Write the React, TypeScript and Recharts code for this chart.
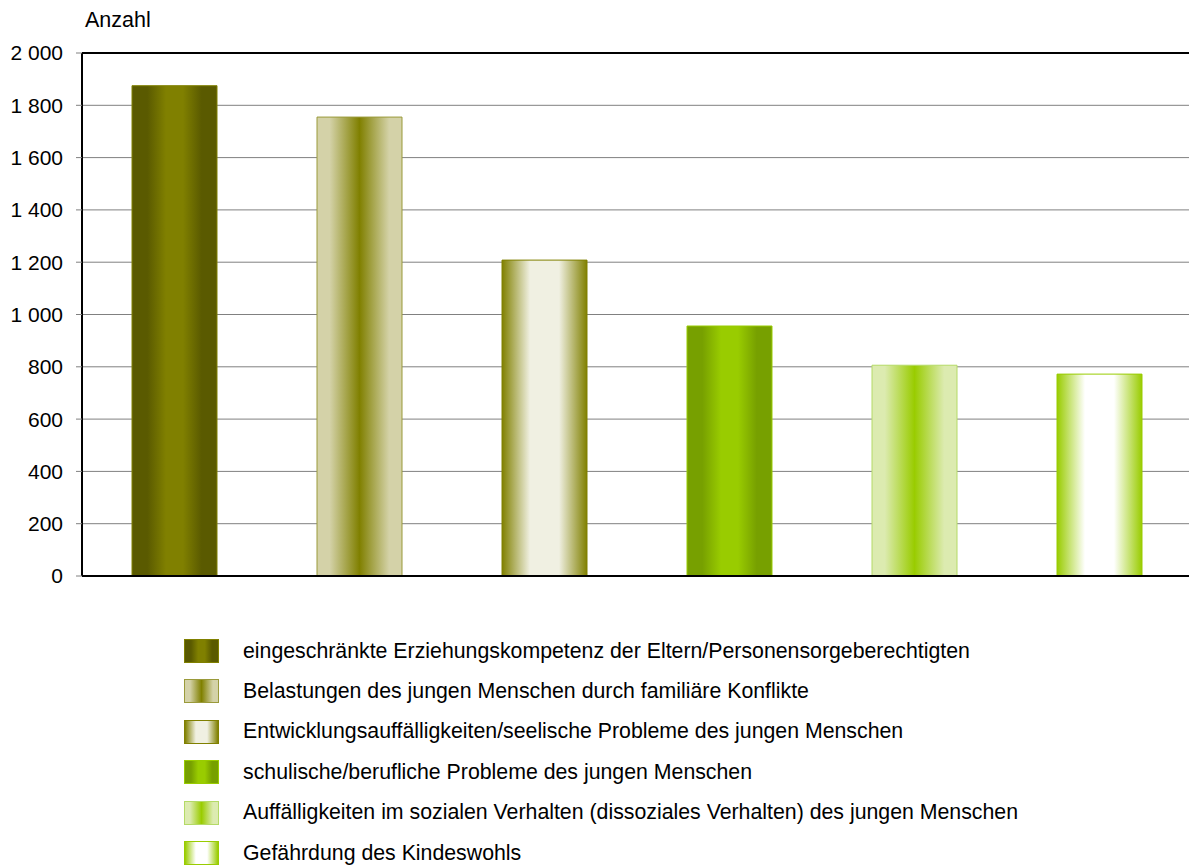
import React from "react"
import { BarChart, Bar, Cell, XAxis, YAxis, CartesianGrid, ReferenceLine } from "recharts"

const categories = [
  "eingeschränkte Erziehungskompetenz der Eltern/Personensorgeberechtigten",
  "Belastungen des jungen Menschen durch familiäre Konflikte",
  "Entwicklungsauffälligkeiten/seelische Probleme des jungen Menschen",
  "schulische/berufliche Probleme des jungen Menschen",
  "Auffälligkeiten im sozialen Verhalten (dissoziales Verhalten) des jungen Menschen",
  "Gefährdung des Kindeswohls",
]
const values = [1875, 1755, 1208, 956, 806, 772]
const yTicks = [0, 200, 400, 600, 800, 1000, 1200, 1400, 1600, 1800, 2000]

// gradient shapes: [offset %, use centre colour?]
const plateau: [number, boolean][] = [[0, false], [18, false], [40, true], [60, true], [82, false], [100, false]]
const narrow: [number, boolean][] = [[0, false], [15, false], [50, true], [85, false], [100, false]]
const wide: [number, boolean][] = [[0, false], [33, true], [67, true], [100, false]]

const fills = [
  { edge: "#5a5a00", mid: "#808000", border: "#808000", stops: plateau },
  { edge: "#d4d2a8", mid: "#808000", border: "#9a9a3a", stops: narrow },
  { edge: "#808000", mid: "#f0f0e2", border: "#808000", stops: wide },
  { edge: "#77a000", mid: "#99cc00", border: "#99cc00", stops: plateau },
  { edge: "#dcebb0", mid: "#99cc00", border: "#b4da66", stops: narrow },
  { edge: "#99cc00", mid: "#ffffff", border: "#99cc00", stops: wide },
]

const data = categories.map((name, i) => ({ name, value: values[i] }))

const fmt = (v: number) => (v >= 1000 ? `${Math.floor(v / 1000)} ${String(v % 1000).padStart(3, "0")}` : String(v))

const font = "'Liberation Sans', Arial, sans-serif"

export default function App() {
  return (
    <div style={{ position: "absolute", left: 0, top: 0, width: 1189, height: 866, overflow: "hidden", background: "#fff", fontFamily: font }}>
      <div style={{ position: "absolute", left: 85, top: 8, fontSize: 21.5, color: "#000" }}>Anzahl</div>
      <BarChart width={1192} height={600} data={data} margin={{ top: 53, right: 0, bottom: 22, left: 0 }} barSize={85}>
        <defs>
          {fills.map((f, i) => (
            <linearGradient key={i} id={`g${i}`} x1="0" y1="0" x2="1" y2="0">
              {f.stops.map(([o, m]) => (
                <stop key={o} offset={`${o}%`} stopColor={m ? f.mid : f.edge} />
              ))}
            </linearGradient>
          ))}
        </defs>
        <CartesianGrid vertical={false} stroke="#808080" />
        <XAxis dataKey="name" tick={false} tickLine={false} height={2} axisLine={{ stroke: "#000", strokeWidth: 2 }} />
        <YAxis
          width={82}
          domain={[0, 2000]}
          ticks={yTicks}
          interval={0}
          tickFormatter={fmt}
          tickSize={6}
          tickMargin={13}
          tickLine={{ stroke: "#808080" }}
          axisLine={{ stroke: "#000", strokeWidth: 2 }}
          tick={{ fill: "#000", fontSize: 21, fontFamily: font }}
        />
        <ReferenceLine y={2000} stroke="#000" strokeWidth={2} />
        <Bar dataKey="value" isAnimationActive={false}>
          {data.map((d, i) => (
            <Cell key={d.name} fill={`url(#g${i})`} stroke={fills[i].border} strokeWidth={1} />
          ))}
        </Bar>
      </BarChart>
      {categories.map((c, i) => {
        const f = fills[i]
        const grad = f.stops.map(([o, m]) => `${m ? f.mid : f.edge} ${o}%`).join(", ")
        return (
          <div key={c} style={{ position: "absolute", left: 184, top: 639 + i * 40.4, height: 24, display: "flex", alignItems: "center" }}>
            <div style={{ width: 33, height: 22, border: `1px solid ${f.border}`, background: `linear-gradient(to right, ${grad})` }} />
            <span style={{ marginLeft: 24, fontSize: 21.3, color: "#000", whiteSpace: "nowrap" }}>{c}</span>
          </div>
        )
      })}
    </div>
  )
}
